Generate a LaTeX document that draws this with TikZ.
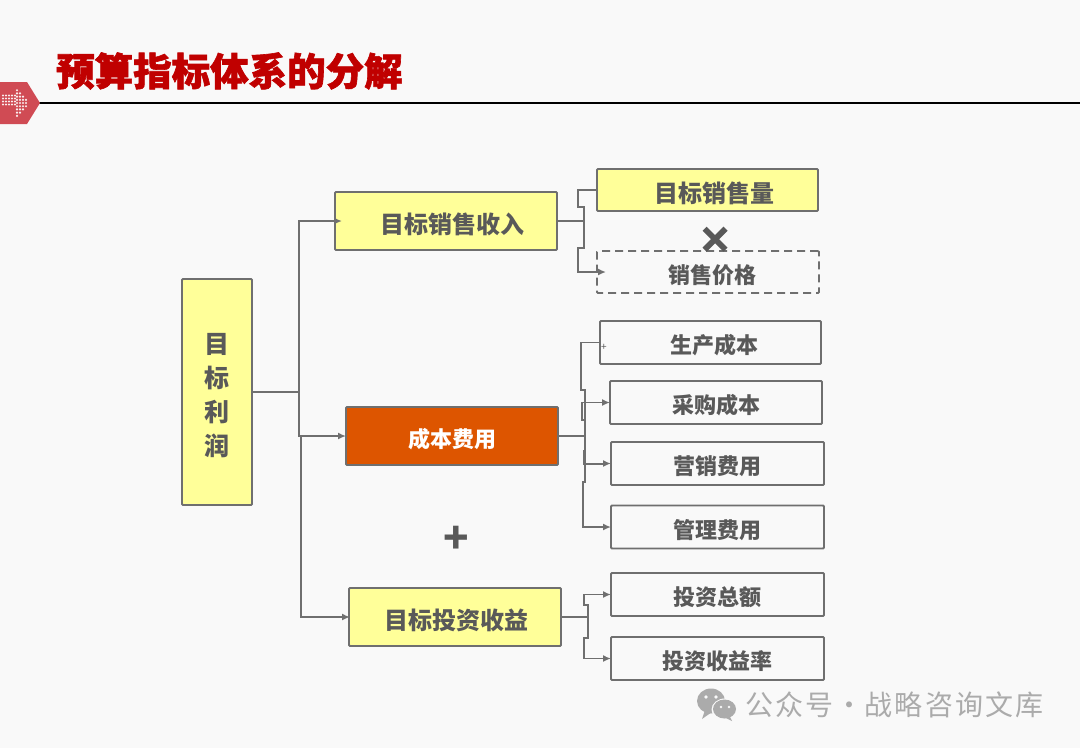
\documentclass[tikz,border=0pt]{standalone}
\usepackage{fontspec}
\setmainfont{Noto Sans CJK SC}
\newfontfamily\titlefont[BoldFeatures={FakeBold=1.6}]{Noto Sans CJK SC}
\newfontfamily\opfont[BoldFeatures={FakeBold=5}]{Noto Sans CJK SC}
\newfontfamily\markfont[LetterSpace=8]{Noto Sans CJK SC}
\usepackage{tikz}
\usetikzlibrary{arrows.meta}
\definecolor{pagebg}{HTML}{F9F9F9}
\definecolor{titlered}{HTML}{C00000}
\definecolor{tagred}{HTML}{D04B54}
\definecolor{linegray}{HTML}{6F6F6F}
\definecolor{textgray}{HTML}{595959}
\definecolor{boxyellow}{HTML}{FFFF99}
\definecolor{costorange}{HTML}{DD5500}
\definecolor{markgray}{HTML}{ABABAB}
\tikzset{
  box/.style={draw=linegray, line width=1.8pt, rounded corners=1pt, inner sep=0pt, outer sep=0pt,
    align=center, text=textgray},
  subbox/.style={box, text height=22pt, text depth=0pt, font=\bfseries\fontsize{22}{26}\selectfont},
  mainbox/.style={box, fill=boxyellow, text height=24pt, text depth=0pt, font=\bfseries\fontsize{24}{28}\selectfont},
  link/.style={draw=linegray, line width=1.6pt},
  arrowlink/.style={link, -{Latex[length=8pt,width=7pt]}},
}
\begin{document}
\begin{tikzpicture}[x=1pt, y=-1pt]
  % page
  \fill[pagebg] (0,0) rectangle (1080,748);
  \useasboundingbox (0,0) rectangle (1080,748);
  % title bar
  \draw[black, line width=2pt] (0,103) -- (1080,103);
  \fill[tagred] (0,82) -- (27,82) -- (40,103) -- (27,124) -- (0,124) -- cycle;
  \foreach \x in {3,6,...,15} \foreach \y in {-1,...,2}
    \fill[white!90!tagred] (\x,{98.5+\y*3}) circle (1.2);
  \foreach \x/\n in {17/4,20/3,23/2,26/1} \foreach \k in {-\n,...,\n}
    \fill[white!90!tagred] (\x,{103+\k*3.2}) circle (1.2);
  \node[font=\titlefont\bfseries\fontsize{38.5}{42}\selectfont, text=titlered, anchor=west, inner sep=0pt] (title) at (56,71) {预算指标体系的分解};
  % left column
  \node[box, fill=boxyellow, minimum width=70pt, minimum height=226pt, font=\bfseries\fontsize{25}{34}\selectfont] (profit) at (217,392) {\rule{0pt}{27pt}目\\标\\利\\润};
  % middle column
  \node[mainbox, minimum width=222pt, minimum height=58pt] (revenue) at (446,221) {\hspace*{12pt}目标销售收入};
  \node[subbox, fill=costorange, text=white, minimum width=212pt, minimum height=58pt] (cost) at (452,436) {成本费用};
  \node[mainbox, minimum width=212pt, minimum height=58pt] (income) at (455,617) {\hspace*{2pt}目标投资收益};
  % right column
  \node[mainbox, minimum width=221pt, minimum height=42pt] (volume) at (707.5,190) {\hspace*{14pt}目标销售量};
  \node[subbox, dashed, dash pattern=on 8pt off 5pt, minimum width=222pt, minimum height=42pt] (price) at (708,272) {\hspace*{8pt}销售价格};
  \node[subbox, minimum width=221pt, minimum height=43pt] (production) at (710.5,342.5) {\hspace*{8pt}生产成本};
  \node[subbox, minimum width=212pt, minimum height=43pt] (purchase) at (716,402.5) {采购成本};
  \node[subbox, minimum width=213pt, minimum height=43pt] (marketing) at (717.5,463.5) {营销费用};
  \node[subbox, minimum width=213pt, minimum height=43pt] (admin) at (717.5,527) {管理费用};
  \node[subbox, minimum width=213pt, minimum height=43pt] (total) at (717.5,594.5) {投资总额};
  \node[subbox, minimum width=213pt, minimum height=43pt] (rate) at (717.5,658.5) {投资收益率};
  % operators
  \node[font=\opfont\bfseries\fontsize{34}{34}\selectfont, text=textgray, inner sep=0pt] (times) at (715,240) {×};
  \node[font=\bfseries\fontsize{42}{42}\selectfont, text=textgray, inner sep=0pt] (plus) at (456,540) {+};
  \node[font=\fontsize{10}{10}\selectfont, text=textgray, inner sep=0pt] (tick) at (604,347) {+};
  % left connectors
  \coordinate (rootjoin) at (299,392);
  \draw[link] (profit.east) -- (rootjoin);
  \draw[arrowlink] (rootjoin) |- ([xshift=7pt]revenue.west);
  \draw[arrowlink, line width=2pt] (rootjoin) |- (cost.west);
  \draw[arrowlink] (rootjoin) ++(2,44) |- ([xshift=1pt]income.west);
  % revenue branch
  \coordinate (revjoin) at (584,221);
  \draw[link] (revenue.east) -- (revjoin);
  \draw[link] (revjoin) -- ++(0,-14) -- ++(-6,0) |- (volume.west);
  \draw[arrowlink] (revjoin) -- ++(0,27) -- ++(-6,0) |- ([xshift=9pt]price.west);
  % cost branch
  \coordinate (costjoin) at (585,436);
  \draw[link] (cost.east) -- (costjoin);
  \draw[link] (costjoin) -- ++(0,-46) -- ++(-4,0) |- (production.west);
  \draw[arrowlink] (costjoin) ++(0,-16) -- ++(-3,0) |- (purchase.west);
  \draw[arrowlink, line width=2pt] (costjoin) ++(-1,14) |- (marketing.west);
  \draw[arrowlink] (costjoin) -- ++(0,46) -- ++(-2,0) |- (admin.west);
  % income branch
  \coordinate (incjoin) at (588,617);
  \draw[link] (income.east) -- (incjoin);
  \draw[arrowlink] (incjoin) -- ++(0,-12) -- ++(-4,0) |- (total.west);
  \draw[arrowlink] (incjoin) -- ++(0,21) -- ++(-4,0) |- (rate.west);
  % watermark
  \fill[markgray] (711,701) ellipse (14 and 12.5);
  \fill[markgray] (705,710) -- (702,719) -- (712,712) -- cycle;
  \fill[pagebg] (725,709.5) ellipse (13.5 and 11);
  \fill[markgray] (724.5,709) ellipse (11.5 and 9.5);
  \fill[markgray] (729,715) -- (732,721) -- (724,717) -- cycle;
  \fill[pagebg] (706,697) circle (1.8) (716,697) circle (1.8) (721,707) circle (1.4) (729,707) circle (1.4);
  \node[font=\markfont\fontsize{28}{30}\selectfont, text=markgray, anchor=west, inner sep=0pt] (mark) at (745,705) {公众号\makebox[31pt]{·}战略咨询文库};
\end{tikzpicture}
\end{document}
